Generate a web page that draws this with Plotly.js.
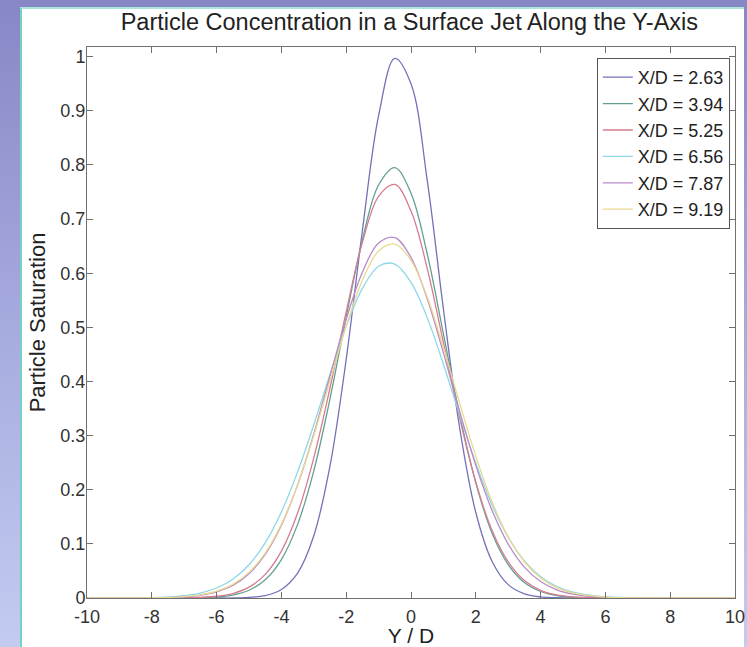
<!DOCTYPE html>
<html>
<head>
<meta charset="utf-8">
<script src="https://cdn.plot.ly/plotly-3.0.1.min.js"></script>
<style>
  html, body { margin: 0; padding: 0; width: 747px; height: 647px; overflow: hidden;
    background: linear-gradient(to bottom, #8787c6 0%, #a9aee0 55%, #c3cbf1 100%); }
  #panel { position: absolute; left: 20px; top: 7px; width: 724px; height: 645px;
    background: #ffffff; border-left: 2px solid #74d2c4; border-top: 2px solid #a8e6dc; box-sizing: border-box; }
  #chart { position: absolute; left: 0; top: 0; width: 747px; height: 647px; }
</style>
</head>
<body>
<div id="panel"></div>
<div id="chart"></div>
<script>
// Y / D sample positions
const yd = [-10,-9.5,-9,-8.5,-8,-7.5,-7,-6.5,-6,-5.5,-5,-4.5,-4,-3.5,-3,-2.5,-2,-1.5,-1,-0.5,0,0.5,1,1.5,2,2.5,3,3.5,4,4.5,5,5.5,6,6.5,7,7.5,8,8.5,9,9.5,10];

const seriesNames = ["X/D = 2.63","X/D = 3.94","X/D = 5.25","X/D = 6.56","X/D = 7.87","X/D = 9.19"];

const sat_263 = [0,0,0,0,0,0,0,0,0,0,0.0011,0.0046,0.0158,0.046,0.115,0.244,0.441,0.679,0.891,0.997,0.950,0.772,0.534,0.315,0.158,0.068,0.0247,0.0077,0.002,0.0005,0,0,0,0,0,0,0,0,0,0,0];
const sat_394 = [0,0,0,0,0,0,0.0002,0.0006,0.0019,0.0055,0.0143,0.0336,0.071,0.136,0.235,0.368,0.519,0.662,0.763,0.795,0.748,0.636,0.488,0.339,0.213,0.120,0.0617,0.0285,0.012,0.0045,0.0015,0.0005,0.0001,0,0,0,0,0,0,0,0];
const sat_525 = [0,0,0,0,0,0,0.0003,0.0011,0.0032,0.0083,0.020,0.0436,0.0867,0.157,0.259,0.388,0.529,0.657,0.742,0.764,0.715,0.609,0.472,0.333,0.214,0.125,0.0667,0.0323,0.0142,0.0057,0.0021,0.0007,0.0002,0,0,0,0,0,0,0,0];
const sat_656 = [0,0,0.0001,0.0003,0.0008,0.0019,0.0043,0.0092,0.0185,0.0348,0.0615,0.102,0.159,0.233,0.320,0.4135,0.502,0.572,0.613,0.617,0.583,0.518,0.432,0.3386,0.249,0.172,0.112,0.0683,0.0392,0.0211,0.0107,0.0051,0.0023,0.0009,0.0004,0.0001,0,0,0,0,0];
const sat_787 = [0,0,0,0.0001,0.0003,0.0008,0.0021,0.005,0.0112,0.0232,0.0448,0.0804,0.1345,0.209,0.303,0.410,0.515,0.602,0.656,0.666,0.629,0.553,0.453,0.345,0.245,0.162,0.0996,0.057,0.0304,0.0151,0.007,0.003,0.0012,0.0005,0.0002,0,0,0,0,0,0];
const sat_919 = [0,0,0,0.0001,0.0004,0.001,0.0025,0.0058,0.0125,0.0252,0.0473,0.083,0.1365,0.209,0.300,0.401,0.502,0.587,0.641,0.654,0.624,0.556,0.463,0.360,0.262,0.178,0.113,0.067,0.0371,0.0192,0.0093,0.0042,0.0018,0.0007,0.0003,0,0,0,0,0,0];

const seriesValues = [sat_263, sat_394, sat_525, sat_656, sat_787, sat_919];
const seriesColors = ["#7272b8","#63a092","#d67c8e","#8cd8e6","#b98ac8","#e8da90"];

const xTicks = [-10,-8,-6,-4,-2,0,2,4,6,8,10];
const yTicks = [0,0.1,0.2,0.3,0.4,0.5,0.6,0.7,0.8,0.9,1];

const FONT = 'Liberation Sans, Arial, sans-serif';

const traces = seriesValues.map((v, i) => ({
  x: yd, y: v, type: 'scatter', mode: 'lines', name: seriesNames[i],
  line: { color: seriesColors[i], width: 1.3, shape: 'spline', smoothing: 1 }
}));

const axisCommon = {
  showline: true, linecolor: '#707070', linewidth: 1, mirror: 'ticks',
  ticks: 'inside', ticklen: 6, tickcolor: '#707070', tickwidth: 1,
  showgrid: false, zeroline: false,
  tickfont: { family: FONT, size: 18, color: '#333333' }
};

const layout = {
  width: 747, height: 647,
  paper_bgcolor: 'rgba(0,0,0,0)', plot_bgcolor: '#ffffff',
  margin: { l: 87, r: 12, t: 47, b: 49 },
  title: { text: 'Particle Concentration in a Surface Jet Along the Y-Axis',
    font: { family: FONT, size: 23.5, color: '#222222' },
    x: 0.548, xanchor: 'center', y: 0.966, yanchor: 'middle' },
  xaxis: Object.assign({}, axisCommon, {
    range: [-10, 10], tickmode: 'array', tickvals: xTicks, ticktext: xTicks.map(String),
    ticklabelstandoff: 2,
    title: { text: 'Y / D', standoff: 5, font: { family: FONT, size: 21, color: '#222222' } }
  }),
  yaxis: Object.assign({}, axisCommon, {
    range: [0, 1.018], tickmode: 'array', tickvals: yTicks, ticktext: yTicks.map(String),
    ticklabelstandoff: -3,
    title: { text: 'Particle Saturation', standoff: 8, font: { family: FONT, size: 22, color: '#222222' } }
  }),
  legend: { x: 0.992, xanchor: 'right', y: 0.98, yanchor: 'top',
    bgcolor: '#ffffff', bordercolor: '#555555', borderwidth: 1,
    font: { family: FONT, size: 18, color: '#222222' } },
  showlegend: true
};

Plotly.newPlot('chart', traces, layout, { displayModeBar: false, staticPlot: true });
</script>
</body>
</html>
